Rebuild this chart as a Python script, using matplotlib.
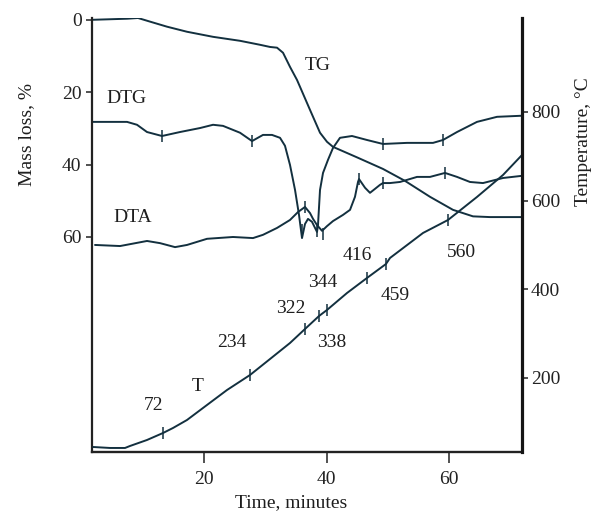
import matplotlib
matplotlib.use("Agg")
import matplotlib.pyplot as plt

plt.rcParams['font.family'] = ['Liberation Serif', 'DejaVu Serif']
plt.rcParams['lines.solid_joinstyle'] = 'round'
plt.rcParams['lines.solid_capstyle'] = 'round'

# ---- data ----
tg_time = [1.71, 7.43, 9.22, 11.18, 13.96, 17.22, 21.47, 25.88, 29.14, 30.78, 31.92, 32.90,
           34.04, 35.18, 35.67, 37.31, 38.94, 40.08, 41.06, 44.98, 49.22, 52.82, 56.90,
           60.65, 63.92, 66.69, 71.92]
tg_mass = [0, -0.3, -0.5, 0.5, 1.9, 3.3, 4.7, 5.8, 6.9, 7.5, 7.7, 9.1,
           13.0, 16.6, 18.5, 24.9, 31.2, 33.7, 35.1, 38.0, 41.2, 44.5, 48.9,
           52.5, 54.3, 54.5, 54.5]

dtg_time = [1.88, 7.43, 9.06, 10.69, 13.14, 16.08, 19.35, 21.47, 23.10, 25.88, 27.84, 29.63,
            31.10, 32.41, 33.22, 34.04, 34.86, 35.51, 36.00, 36.49, 36.98, 37.63, 38.45,
            38.61, 38.94, 39.43, 40.24, 41.06, 42.20, 44.16, 46.61, 49.22, 53.14, 57.39,
            59.02, 61.31, 64.57, 67.84, 71.92]
dtg_val = [28.2, 28.2, 29.0, 31.0, 32.1, 31.0, 29.9, 29.0, 29.3, 31.2, 33.5, 31.8,
           31.8, 32.6, 34.8, 40.1, 47.0, 53.9, 60.3, 56.4, 55.0, 55.8, 58.6,
           56.7, 47.0, 42.3, 38.7, 35.4, 32.6, 32.1, 33.2, 34.3, 34.0, 34.0,
           33.2, 31.0, 28.2, 26.8, 26.5]

dta_time = [2.20, 6.29, 10.69, 12.82, 15.27, 17.22, 20.49, 24.73, 28.00, 29.63, 31.92, 34.04,
            35.35, 36.49, 37.31, 37.80, 38.45, 39.27, 40.08, 41.06, 42.69, 43.84, 44.65,
            45.14, 45.31, 46.29, 47.10, 47.92, 48.73, 49.22, 50.37, 52.00, 54.78, 56.90,
            59.35, 61.31, 63.43, 65.55, 68.82, 71.92]
dta_val = [62.2, 62.5, 61.1, 61.7, 62.8, 62.2, 60.5, 60.0, 60.3, 59.4, 57.5, 55.3,
           53.1, 51.7, 53.4, 55.0, 56.7, 58.3, 57.0, 55.6, 53.9, 52.5, 48.9,
           44.8, 44.0, 46.4, 47.8, 46.7, 45.6, 45.1, 45.1, 44.8, 43.4, 43.4,
           42.3, 43.4, 44.8, 45.1, 43.7, 43.1]

t_time = [1.88, 4.65, 7.10, 7.92, 10.69, 13.31, 14.94, 17.22, 20.49, 23.76, 27.51, 30.78,
          34.04, 36.49, 38.78, 40.08, 43.35, 46.61, 49.71, 50.37, 55.76, 59.84, 64.57,
          68.82, 71.92]
t_temp = [44.3, 42.1, 42.1, 46.6, 60.1, 75.9, 87.2, 105.2, 139.1, 172.9, 206.7, 242.8,
          278.9, 310.5, 339.8, 353.4, 391.7, 425.6, 457.1, 470.7, 527.1, 556.4, 608.3,
          657.9, 703.0]

# tick marks on the curves
t_mark_time = [13.31, 27.51, 36.49, 38.78, 40.08, 46.61, 49.71, 59.84]
t_mark_temp = [75.9, 206.7, 310.5, 339.8, 353.4, 425.6, 457.1, 556.4]
t_mark_labels = ['72', '234', '322', '338', '344', '416', '459', '560']
t_label_time = [11.7, 24.6, 34.2, 40.9, 39.4, 45.1, 51.2, 62.1]
t_label_temp = [139, 279, 356, 279, 416, 477, 385, 484]

dtg_mark_time = [13.14, 27.84, 49.22, 59.02, 36.0, 38.5, 39.4]
dtg_mark_val = [32.1, 33.5, 34.3, 33.2, 58.1, 58.3, 59.2]
dta_mark_time = [36.49, 45.31, 49.22, 59.35]
dta_mark_val = [51.7, 44.0, 45.1, 42.3]

x_ticks = [20, 40, 60]
mass_ticks = [0, 20, 40, 60]
temp_ticks = [200, 400, 600, 800]

# ---- drawing ----
W, H = 592, 511
fig = plt.figure(figsize=(W / 100, H / 100), dpi=100)
L, R, T, B = 92, 522, 18, 452
ax = fig.add_axes([L / W, 1 - B / H, (R - L) / W, (B - T) / H])
ax2 = ax.twinx()

line_c = '#13303f'
txt_c = '#1e1e1e'
fs = 14
lw = 1.4

ax.set_xlim(1.71, 71.92)
ax.set_ylim(119.4, -0.5)
ax2.set_ylim(33, 1012)

ax.plot(tg_time, tg_mass, color=line_c, lw=lw)
ax.plot(dtg_time, dtg_val, color=line_c, lw=lw)
ax.plot(dta_time, dta_val, color=line_c, lw=lw)
ax.plot(dtg_mark_time, dtg_mark_val, ls='none', marker='|', ms=9, mew=1.1, color=line_c)
ax.plot(dta_mark_time, dta_mark_val, ls='none', marker='|', ms=9, mew=1.1, color=line_c)

ax2.plot(t_time, t_temp, color=line_c, lw=lw)
ax2.plot(t_mark_time, t_mark_temp, ls='none', marker='|', ms=9, mew=1.1, color=line_c)
for lab, xx, yy in zip(t_mark_labels, t_label_time, t_label_temp):
    ax2.text(xx, yy, lab, ha='center', va='center', fontsize=fs, color=txt_c)

ax.text(38.6, 12.7, 'TG', ha='center', va='center', fontsize=fs, color=txt_c)
ax.text(7.4, 21.8, 'DTG', ha='center', va='center', fontsize=fs, color=txt_c)
ax.text(8.4, 54.7, 'DTA', ha='center', va='center', fontsize=fs, color=txt_c)
ax2.text(18.9, 180, 'T', ha='center', va='center', fontsize=fs, color=txt_c)

# axes styling
for a in (ax, ax2):
    a.spines['top'].set_visible(False)
    a.patch.set_visible(False)
ax.spines['right'].set_visible(False)
ax2.spines['left'].set_visible(False)
ax2.spines['bottom'].set_visible(False)
ax.spines['left'].set_linewidth(1.6)
ax.spines['bottom'].set_linewidth(1.7)
ax2.spines['right'].set_linewidth(2.3)
for s in ('left', 'bottom'):
    ax.spines[s].set_color('#222222')
ax2.spines['right'].set_color('#151515')

ax.set_xticks(x_ticks)
ax.set_yticks(mass_ticks)
ax2.set_yticks(temp_ticks)
ax.tick_params(axis='x', direction='out', length=8, width=1.1, pad=6,
               labelsize=fs, colors='#222222')
ax.tick_params(axis='y', direction='out', length=4.5, width=1.1, pad=3,
               labelsize=fs, colors='#222222')
ax2.tick_params(axis='y', direction='out', length=4.5, width=1.1, pad=2,
                labelsize=fs, colors='#222222')

fig.text(27 / W, 1 - 134 / H, 'Mass loss, %', rotation=90, ha='center', va='center',
         fontsize=fs, color=txt_c)
fig.text(583 / W, 1 - 142 / H, 'Temperature, °C', rotation=90, ha='center', va='center',
         fontsize=fs, color=txt_c)
fig.text(291 / W, 1 - 503 / H, 'Time, minutes', ha='center', va='center',
         fontsize=fs, color=txt_c)

fig.savefig('out.png', dpi=100)
